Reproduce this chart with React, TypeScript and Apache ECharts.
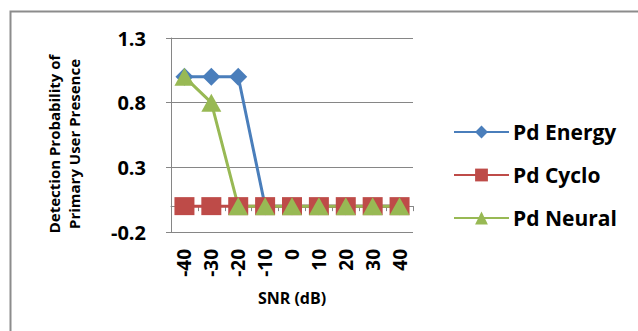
import React, { useEffect, useRef } from "react";
import * as echarts from "echarts";

const categories = ["-40", "-30", "-20", "-10", "0", "10", "20", "30", "40"];
const pdEnergy = [1, 1, 1, 0, 0, 0, 0, 0, 0];
const pdCyclo = [0, 0, 0, 0, 0, 0, 0, 0, 0];
const pdNeural = [1, 0.8, 0, 0, 0, 0, 0, 0, 0];
const yTicks = [-0.2, 0.3, 0.8, 1.3];

const FONT = "'Open Sans', 'Liberation Sans', sans-serif";

export default function App() {
  const ref = useRef<HTMLDivElement>(null);
  useEffect(() => {
    document.body.style.margin = "0";
    const chart = echarts.init(ref.current!, null, { renderer: "svg" });
    const axisColor = "#868686";
    chart.setOption({
      animation: false,
      backgroundColor: "#ffffff",
      grid: { left: 171, right: 225, top: 38, bottom: 99, containLabel: false },
      xAxis: {
        type: "category",
        data: categories,
        boundaryGap: true,
        axisLine: { lineStyle: { color: axisColor, width: 1 } },
        axisTick: { show: true, length: 5, lineStyle: { color: axisColor } },
        axisLabel: {
          rotate: 90,
          margin: 17,
          fontSize: 19,
          fontWeight: "bold",
          color: "#000",
          fontFamily: FONT,
          interval: 0,
        },
        splitLine: { show: false },
      },
      yAxis: {
        type: "value",
        min: -0.2,
        max: 1.3,
        axisLine: { show: true, lineStyle: { color: axisColor, width: 1 } },
        axisTick: { show: true, length: 5, lineStyle: { color: axisColor }, customValues: yTicks },
        axisLabel: {
          customValues: yTicks,
          margin: 25,
          fontSize: 20,
          fontWeight: "bold",
          color: "#000",
          fontFamily: FONT,
          formatter: (v: number) => v.toFixed(1),
        },
        splitLine: { show: true, lineStyle: { color: axisColor, width: 1 } },
      },
      legend: {
        orient: "vertical",
        left: 453,
        top: 121,
        padding: 0,
        itemWidth: 55,
        itemHeight: 16,
        itemGap: 21,
        textStyle: { fontSize: 21, fontWeight: "bold", color: "#000", fontFamily: FONT, lineHeight: 22, padding: [0, 0, 0, -1] },
        data: ["Pd Energy", "Pd Cyclo", "Pd Neural"],
      },
      series: [
        {
          name: "Pd Energy",
          type: "line",
          data: pdEnergy,
          symbol: "diamond",
          symbolSize: 18,
          itemStyle: { color: "#4a7ebb" },
          lineStyle: { color: "#4a7ebb", width: 3 },
        },
        {
          name: "Pd Cyclo",
          type: "line",
          data: pdCyclo,
          symbol: "rect",
          symbolSize: [20, 18],
          itemStyle: { color: "#be4b48" },
          lineStyle: { color: "#be4b48", width: 3 },
        },
        {
          name: "Pd Neural",
          type: "line",
          data: pdNeural,
          symbol: "triangle",
          symbolSize: [20, 18],
          itemStyle: { color: "#98b954" },
          lineStyle: { color: "#98b954", width: 3 },
        },
      ],
      graphic: [
        {
          type: "rect",
          shape: { x: 10.5, y: 11.5, width: 700, height: 400 },
          style: { fill: "none", stroke: "#8c8c8c", lineWidth: 2 },
          silent: true,
        },
        {
          type: "text",
          x: 64,
          y: 144,
          rotation: Math.PI / 2,
          style: {
            text: "Detection Probability of\nPrimary User Presence",
            align: "center",
            verticalAlign: "middle",
            lineHeight: 20,
            fontSize: 15,
            fontWeight: "bold",
            fontFamily: FONT,
            fill: "#000",
          },
        },
        {
          type: "text",
          x: 292,
          y: 298,
          style: {
            text: "SNR (dB)",
            align: "center",
            verticalAlign: "middle",
            fontSize: 16,
            fontWeight: "bold",
            fontFamily: FONT,
            fill: "#000",
          },
        },
      ],
    });
    return () => chart.dispose();
  }, []);
  return <div ref={ref} style={{ width: 638, height: 331, position: "absolute", left: 0, top: 0 }} />;
}
